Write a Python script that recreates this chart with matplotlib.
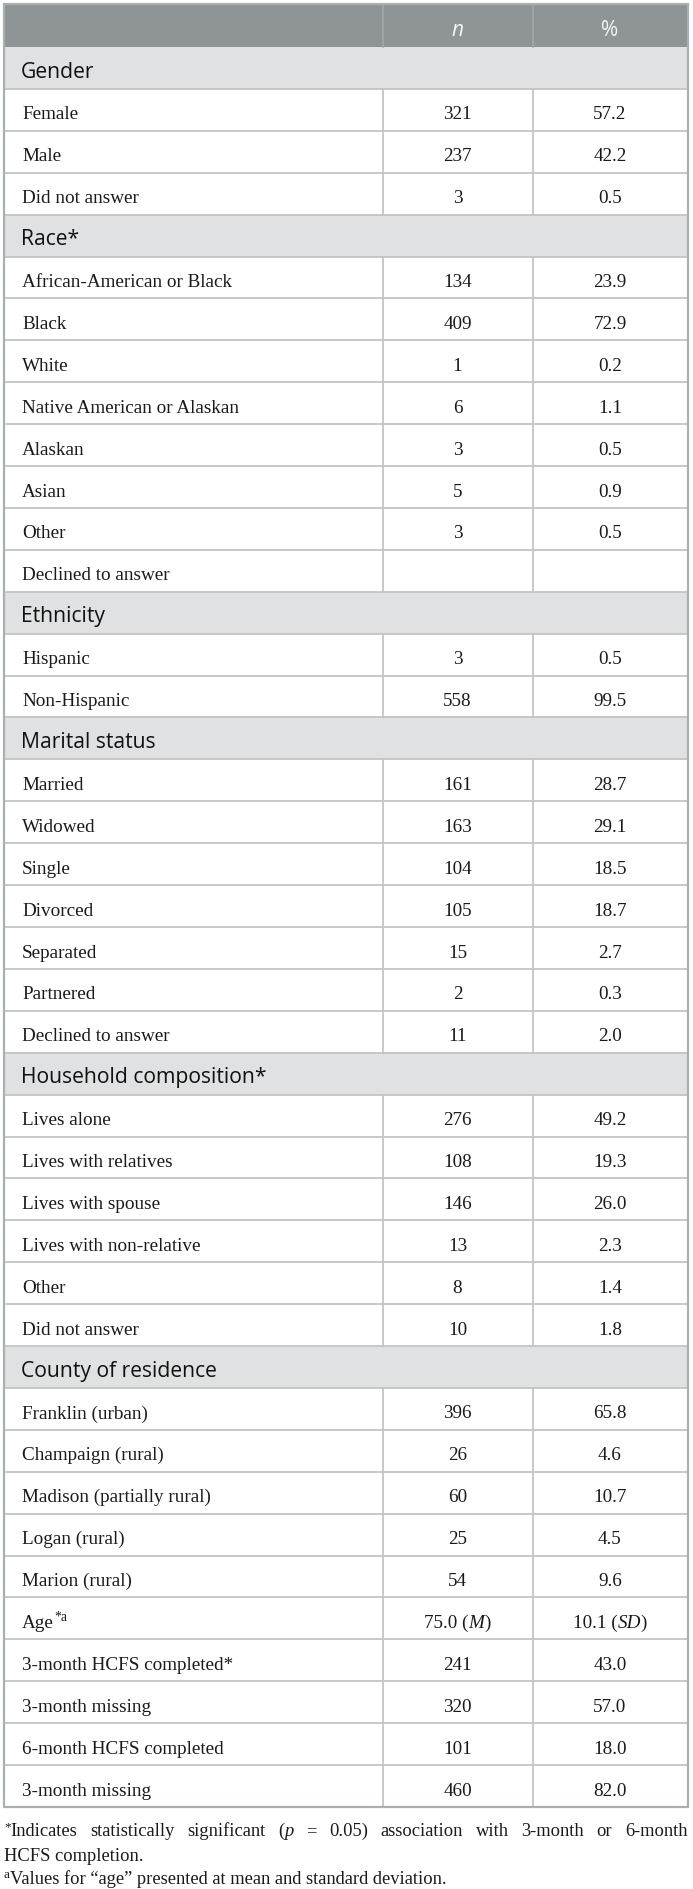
import matplotlib
matplotlib.use("Agg")
import matplotlib.pyplot as plt
from matplotlib.patches import Rectangle

# ---------------- data ----------------
col_headers = ["n", "%"]

section_titles = ["Gender", "Race*", "Ethnicity", "Marital status",
                  "Household composition*", "County of residence"]

gender_labels = ["Female", "Male", "Did not answer"]
gender_n = ["321", "237", "3"]
gender_pct = ["57.2", "42.2", "0.5"]

race_labels = ["African-American or Black", "Black", "White",
               "Native American or Alaskan", "Alaskan", "Asian", "Other",
               "Declined to answer"]
race_n = ["134", "409", "1", "6", "3", "5", "3", ""]
race_pct = ["23.9", "72.9", "0.2", "1.1", "0.5", "0.9", "0.5", ""]

ethnicity_labels = ["Hispanic", "Non-Hispanic"]
ethnicity_n = ["3", "558"]
ethnicity_pct = ["0.5", "99.5"]

marital_labels = ["Married", "Widowed", "Single", "Divorced", "Separated",
                  "Partnered", "Declined to answer"]
marital_n = ["161", "163", "104", "105", "15", "2", "11"]
marital_pct = ["28.7", "29.1", "18.5", "18.7", "2.7", "0.3", "2.0"]

household_labels = ["Lives alone", "Lives with relatives", "Lives with spouse",
                    "Lives with non-relative", "Other", "Did not answer"]
household_n = ["276", "108", "146", "13", "8", "10"]
household_pct = ["49.2", "19.3", "26.0", "2.3", "1.4", "1.8"]

county_labels = ["Franklin (urban)", "Champaign (rural)",
                 "Madison (partially rural)", "Logan (rural)", "Marion (rural)"]
county_n = ["396", "26", "60", "25", "54"]
county_pct = ["65.8", "4.6", "10.7", "4.5", "9.6"]

extra_labels = ["Age", "3-month HCFS completed*", "3-month missing",
                "6-month HCFS completed", "3-month missing"]
extra_n = ["75.0 (M)", "241", "320", "101", "460"]
extra_pct = ["10.1 (SD)", "43.0", "57.0", "18.0", "82.0"]

footnote1 = "*Indicates statistically significant (p = 0.05) association with 3-month or 6-month"
footnote2 = "HCFS completion."
footnote3 = "Values for \u201cage\u201d presented at mean and standard deviation."

# ---------------- style / layout ----------------
W, H = 693, 1890
X0, X1 = 4.0, 687.5
XC1, XC2 = 382.5, 532.5
TOP = 5.0
HEAD_BOT = 48.0
TAB_BOT = 1808.0

C_HEAD = "#8f9496"
C_SEC = "#e0e1e2"
C_GRID = "#c3c5c5"
C_OUT = "#a9b1ae"
C_TXT = "#1a1a1a"

SERIF = "Liberation Serif"
SANS = "Open Sans"
FS = 13.8
FS_SEC = 15.2
FS_HEAD = 15

fig = plt.figure(figsize=(W / 100, H / 100), dpi=100)
ax = fig.add_axes([0, 0, 1, 1])
ax.set_xlim(0, W)
ax.set_ylim(H, 0)
ax.axis("off")
renderer = fig.canvas.get_renderer()


def draw_runs(x, y, runs, ha="left"):
    """runs: list of (text, kwargs, dy)."""
    arts = []
    for txt, kw, dy in runs:
        base = dict(family=SERIF, size=FS, color=C_TXT, va="baseline", ha="left")
        base.update(kw)
        t = ax.text(x, y + dy, txt, **base)
        arts.append((t, dy))
    widths = [t.get_window_extent(renderer).width for t, _ in arts]
    total = sum(widths)
    start = x - total / 2 if ha == "center" else x
    cx = start
    for (t, dy), w in zip(arts, widths):
        t.set_position((cx, y + dy))
        cx += w
    return total


def sup(s):
    return (s, dict(size=FS * 0.72), -6.5)


def norm(s):
    return (s, {}, 0)


def ital(s):
    return (s, dict(style="italic"), 0)


# build rows
sections = [
    (gender_labels, gender_n, gender_pct),
    (race_labels, race_n, race_pct),
    (ethnicity_labels, ethnicity_n, ethnicity_pct),
    (marital_labels, marital_n, marital_pct),
    (household_labels, household_n, household_pct),
    (county_labels, county_n, county_pct),
]
rows = []
for title, (labs, ns, ps) in zip(section_titles, sections):
    rows.append(("section", title, None, None))
    for l, n, p in zip(labs, ns, ps):
        rows.append(("data", l, n, p))
for l, n, p in zip(extra_labels, extra_n, extra_pct):
    rows.append(("data", l, n, p))

nrows = len(rows)
RH = (TAB_BOT - HEAD_BOT) / nrows

# header
ax.add_patch(Rectangle((X0, TOP), X1 - X0, HEAD_BOT - TOP, facecolor=C_HEAD,
                       edgecolor="none", zorder=1))
ax.plot([XC1, XC1], [TOP, HEAD_BOT], color="#a3a8aa", lw=1.2, zorder=2)
ax.plot([XC2, XC2], [TOP, HEAD_BOT], color="#a3a8aa", lw=1.2, zorder=2)
ax.text((XC1 + XC2) / 2, TOP + 31.5, col_headers[0], family=SANS, style="italic",
        size=FS_HEAD, color="#f5f5f5", ha="center", va="baseline", zorder=3)
ax.text((XC2 + X1) / 2, TOP + 31.5, col_headers[1], family=SANS,
        size=FS_HEAD, color="#f5f5f5", ha="center", va="baseline", zorder=3)

for i, (kind, lab, n, p) in enumerate(rows):
    y0 = HEAD_BOT + i * RH
    y1 = y0 + RH
    if kind == "section":
        ax.add_patch(Rectangle((X0, y0), X1 - X0, RH, facecolor=C_SEC,
                               edgecolor="none", zorder=1))
        ax.text(X0 + 17, y0 + 29.5, lab, family=SANS, size=FS_SEC, color="#111111",
                ha="left", va="baseline", zorder=3)
    else:
        ax.plot([XC1, XC1], [y0, y1], color=C_GRID, lw=1.3, zorder=2)
        ax.plot([XC2, XC2], [y0, y1], color=C_GRID, lw=1.3, zorder=2)
        base_y = y0 + 29.5
        if lab == "Age":
            draw_runs(X0 + 18, base_y, [norm("Age"), sup("*a")])
        else:
            draw_runs(X0 + 18, base_y, [norm(lab)])
        for val, xc in ((n, (XC1 + XC2) / 2), (p, (XC2 + X1) / 2)):
            if not val:
                continue
            if "(" in val:
                num, rest = val.split("(")
                inner = rest.rstrip(")")
                draw_runs(xc, base_y, [norm(num + "("), ital(inner), norm(")")],
                          ha="center")
            else:
                draw_runs(xc, base_y, [norm(val)], ha="center")
    if i > 0:
        ax.plot([X0, X1], [y0, y0], color=C_GRID, lw=1.3, zorder=2)

# outer border
ax.add_patch(Rectangle((X0, TOP), X1 - X0, TAB_BOT - TOP, facecolor="none",
                       edgecolor=C_OUT, lw=1.6, zorder=4))

# footnotes
FS_FN = 13.3
fy1, fy2, fy3 = 1836, 1861, 1884

fsup = lambda s: (s, dict(size=FS_FN * 0.72), -6)
fnorm = lambda s: (s, dict(size=FS_FN), 0)
fital = lambda s: (s, dict(size=FS_FN, style="italic"), 0)

words = footnote1.split(" ")
tokens = []
for w in words:
    if w.startswith("*"):
        tokens.append([fsup("*"), fnorm(w[1:])])
    elif w == "(p":
        tokens.append([fnorm("("), fital("p")])
    else:
        tokens.append([fnorm(w)])

# measure tokens for justified first line
widths = []
for tok in tokens:
    wsum = 0
    for txt, kw, dy in tok:
        t = ax.text(0, 0, txt, family=SERIF, **kw)
        wsum += t.get_window_extent(renderer).width
        t.remove()
    widths.append(wsum)
gap = (X1 - X0 - sum(widths)) / (len(tokens) - 1)
cx = X0
for tok, w in zip(tokens, widths):
    draw_runs(cx, fy1, tok)
    cx += w + gap

draw_runs(X0, fy2, [fnorm(footnote2)])
draw_runs(X0, fy3, [fsup("a"), fnorm(footnote3)])

fig.savefig("out.png", dpi=100)
